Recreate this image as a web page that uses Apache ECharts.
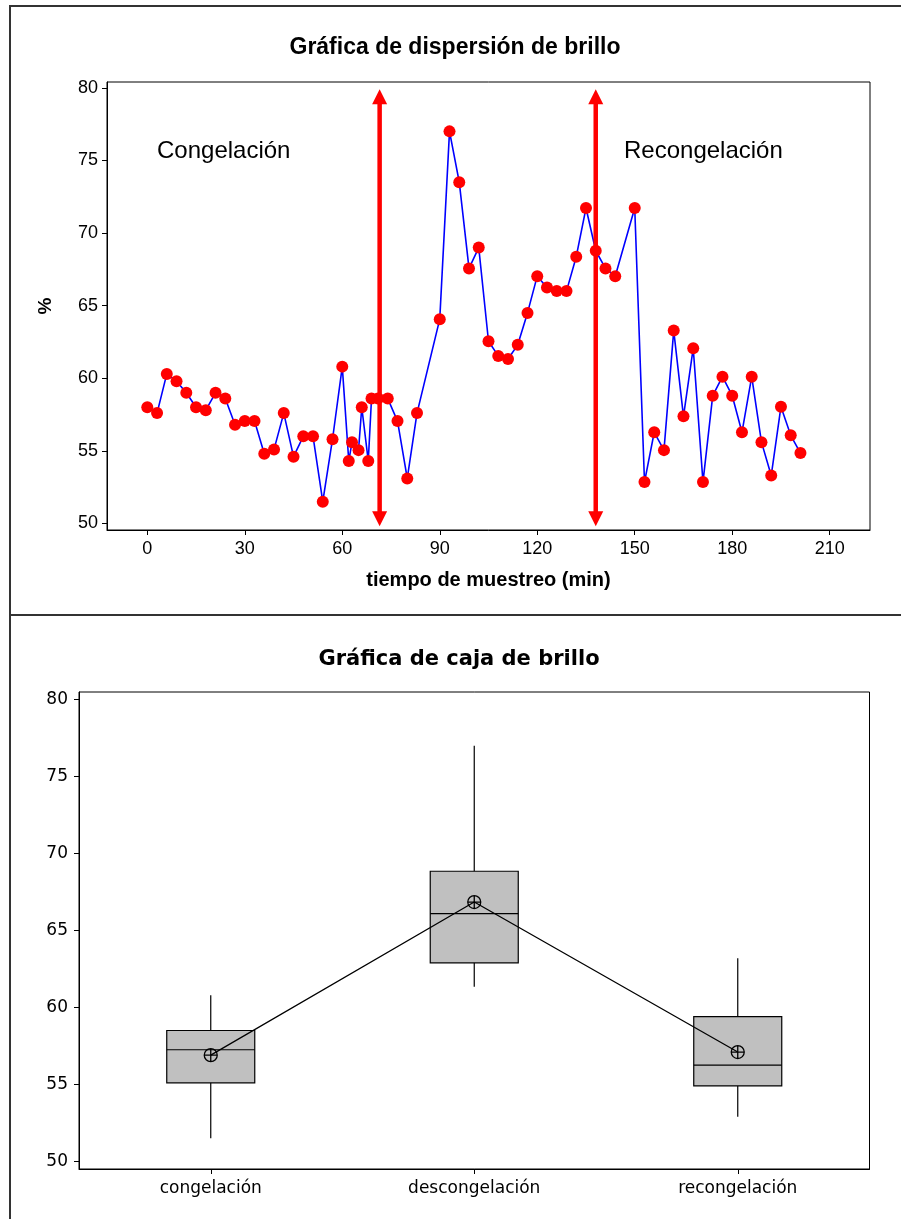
<!DOCTYPE html>
<html>
<head>
<meta charset="utf-8">
<title>Gráficas de brillo</title>
<script src="https://cdn.jsdelivr.net/npm/echarts@6/dist/echarts.min.js"></script>
<style>
  html, body { margin: 0; padding: 0; background: #fff; }
  #chart { width: 901px; height: 1219px; }
</style>
</head>
<body>
<div id="chart"></div>
<script>
// Tiempo de muestreo (min) y brillo (%) de cada muestra
const tiempos = [0, 3, 6, 9, 12, 15, 18, 21, 24, 27, 30, 33, 36, 39, 42, 45, 48, 51, 54, 57, 60,
  62, 63, 65, 66, 68, 69, 71, 74, 77, 80, 83,
  90, 93, 96, 99, 102, 105, 108, 111, 114, 117, 120, 123, 126, 129, 132, 135, 138, 141, 144, 150,
  153, 156, 159, 162, 165, 168, 171, 174, 177, 180, 183, 186, 189, 192, 195, 198, 201];
const brillo = [58.0, 57.6, 60.3, 59.8, 59.0, 58.0, 57.8, 59.0, 58.6, 56.8, 57.05, 57.05, 54.8, 55.1, 57.6, 54.6, 56.0, 56.0, 51.5, 55.8, 60.8,
  54.3, 55.6, 55.05, 58.0, 54.3, 58.6, 58.6, 58.6, 57.05, 53.1, 57.6,
  64.07, 77.0, 73.5, 67.56, 69.0, 62.55, 61.54, 61.33, 62.3, 64.5, 67.03, 66.25, 66.0, 66.0, 68.37, 71.72, 68.78, 67.56, 67.03, 71.72,
  52.85, 56.28, 55.05, 63.28, 57.38, 62.07, 52.85, 58.8, 60.11, 58.8, 56.28, 60.11, 55.6, 53.3, 58.04, 56.07, 54.85];

// Cambios de etapa marcados con flechas (min) y su recorrido vertical (%)
const cambiosEtapa = [71.5, 138];
const recorridoFlecha = [49.8, 79.9];

// Marcas de los ejes
const ticksTiempo = [0, 30, 60, 90, 120, 150, 180, 210];
const ticksPorcentaje = [50, 55, 60, 65, 70, 75, 80];

// Resumen por etapa para la gráfica de caja
const etapas = ['congelación', 'descongelación', 'recongelación'];
const cajaMin = [51.5, 61.35, 52.9];
const cajaQ1 = [55.1, 62.9, 54.9];
const cajaMediana = [57.25, 66.1, 56.25];
const cajaQ3 = [58.5, 68.85, 59.4];
const cajaMax = [60.8, 77.0, 63.2];
const medias = [56.9, 66.85, 57.1];

const fuenteSup = '"Liberation Sans", Arial, sans-serif';
const fuenteInf = '"DejaVu Sans", Verdana, sans-serif';

const chart = echarts.init(document.getElementById('chart'), null, { renderer: 'canvas' });

const puntos = tiempos.map((t, i) => [t, brillo[i]]);
const flechas = cambiosEtapa.map(t => [t, recorridoFlecha[0], recorridoFlecha[1]]);
const cajas = etapas.map((e, i) => [i, cajaMin[i], cajaQ1[i], cajaMediana[i], cajaQ3[i], cajaMax[i]]);

// Flecha vertical de doble punta entre los dos extremos del recorrido
function dibujarFlecha(params, api) {
  const t = api.value(0);
  const abajo = api.coord([t, api.value(1)]);
  const arriba = api.coord([t, api.value(2)]);
  const largo = 15, medio = 7.5;
  const rojo = '#ff0000';
  return {
    type: 'group',
    children: [
      { type: 'line', shape: { x1: arriba[0], y1: arriba[1] + largo - 1, x2: abajo[0], y2: abajo[1] - largo + 1 },
        style: { stroke: rojo, lineWidth: 4.5 } },
      { type: 'polygon', shape: { points: [[arriba[0], arriba[1]], [arriba[0] - medio, arriba[1] + largo], [arriba[0] + medio, arriba[1] + largo]] },
        style: { fill: rojo } },
      { type: 'polygon', shape: { points: [[abajo[0], abajo[1]], [abajo[0] - medio, abajo[1] - largo], [abajo[0] + medio, abajo[1] - largo]] },
        style: { fill: rojo } }
    ]
  };
}

// Caja con bigotes sin remates: mínimo, Q1, mediana, Q3, máximo
function dibujarCaja(params, api) {
  const i = api.value(0);
  const pMin = api.coord([i, api.value(1)]);
  const pQ1 = api.coord([i, api.value(2)]);
  const pMed = api.coord([i, api.value(3)]);
  const pQ3 = api.coord([i, api.value(4)]);
  const pMax = api.coord([i, api.value(5)]);
  const ancho = api.size([1, 0])[0] * 0.334;
  const x = pQ1[0];
  const negro = '#000';
  const trazo = 1.2;
  return {
    type: 'group',
    children: [
      { type: 'line', shape: { x1: x, y1: pMax[1], x2: x, y2: pQ3[1] }, style: { stroke: negro, lineWidth: trazo } },
      { type: 'line', shape: { x1: x, y1: pQ1[1], x2: x, y2: pMin[1] }, style: { stroke: negro, lineWidth: trazo } },
      { type: 'rect', shape: { x: x - ancho / 2, y: pQ3[1], width: ancho, height: pQ1[1] - pQ3[1] },
        style: { fill: '#c0c0c0', stroke: negro, lineWidth: trazo } },
      { type: 'line', shape: { x1: x - ancho / 2, y1: pMed[1], x2: x + ancho / 2, y2: pMed[1] }, style: { stroke: negro, lineWidth: trazo } }
    ]
  };
}

const ejeComun = {
  axisLine: { show: true, onZero: false, lineStyle: { color: '#000', width: 1 } },
  axisTick: { show: true, length: 5, lineStyle: { color: '#000' } },
  splitLine: { show: false }
};

const option = {
  animation: false,
  backgroundColor: '#fff',
  grid: [
    { left: 107, top: 82, width: 763, height: 448, show: true, borderColor: '#000', borderWidth: 1, backgroundColor: '#fff' },
    { left: 79, top: 692, width: 790.5, height: 477, show: true, borderColor: '#000', borderWidth: 1, backgroundColor: '#fff' }
  ],
  xAxis: [
    Object.assign({}, ejeComun, {
      gridIndex: 0, type: 'value', min: -12.4, max: 222.4,
      axisTick: { show: true, length: 5, customValues: ticksTiempo, lineStyle: { color: '#000' } },
      axisLabel: { customValues: ticksTiempo, margin: 10, color: '#000', fontFamily: fuenteSup, fontSize: 18 },
      name: 'tiempo de muestreo (min)', nameLocation: 'middle', nameGap: 40,
      nameTextStyle: { color: '#000', fontFamily: fuenteSup, fontSize: 20, fontWeight: 'bold' }
    }),
    Object.assign({}, ejeComun, {
      gridIndex: 1, type: 'category', data: etapas, boundaryGap: true,
      axisTick: { show: true, length: 5, alignWithLabel: true, lineStyle: { color: '#000' } },
      axisLabel: { margin: 11, color: '#000', fontFamily: fuenteInf, fontSize: 17 }
    })
  ],
  yAxis: [
    Object.assign({}, ejeComun, {
      gridIndex: 0, type: 'value', min: 49.55, max: 80.4,
      axisTick: { show: true, length: 5, customValues: ticksPorcentaje, lineStyle: { color: '#000' } },
      axisLabel: { customValues: ticksPorcentaje, margin: 9, color: '#000', fontFamily: fuenteSup, fontSize: 18 },
      name: '%', nameLocation: 'middle', nameGap: 52, nameRotate: 90,
      nameTextStyle: { color: '#000', fontFamily: fuenteSup, fontSize: 19, fontWeight: 'bold' }
    }),
    Object.assign({}, ejeComun, {
      gridIndex: 1, type: 'value', min: 49.5, max: 80.5,
      axisTick: { show: true, length: 5, customValues: ticksPorcentaje, lineStyle: { color: '#000' } },
      axisLabel: { customValues: ticksPorcentaje, margin: 11, color: '#000', fontFamily: fuenteInf, fontSize: 17 }
    })
  ],
  series: [
    {
      type: 'line', xAxisIndex: 0, yAxisIndex: 0, data: puntos, z: 3,
      lineStyle: { color: '#0000ff', width: 1.6 },
      symbol: 'circle', symbolSize: 12, showAllSymbol: true,
      itemStyle: { color: '#ff0000', borderWidth: 0 }
    },
    {
      type: 'custom', xAxisIndex: 0, yAxisIndex: 0, data: flechas, z: 4,
      encode: { x: 0, y: [1, 2] }, renderItem: dibujarFlecha
    },
    {
      type: 'custom', xAxisIndex: 1, yAxisIndex: 1, data: cajas, z: 2,
      encode: { x: 0, y: [1, 2, 3, 4, 5] }, renderItem: dibujarCaja
    },
    {
      type: 'line', xAxisIndex: 1, yAxisIndex: 1, data: medias, z: 5,
      lineStyle: { color: '#000', width: 1.3 },
      symbol: 'path://M0,10 A10,10 0 1,1 20,10 A10,10 0 1,1 0,10 Z M10,0 L10,20 M0,10 L20,10',
      symbolSize: 13, showAllSymbol: true,
      itemStyle: { color: 'rgba(0,0,0,0)', borderColor: '#000', borderWidth: 1.3 }
    }
  ],
  graphic: [
    { type: 'rect', shape: { x: 10, y: 6, width: 1000, height: 609 }, style: { fill: 'none', stroke: '#333', lineWidth: 2 }, z: 10, silent: true },
    { type: 'rect', shape: { x: 10, y: 615, width: 1000, height: 700 }, style: { fill: 'none', stroke: '#333', lineWidth: 2 }, z: 10, silent: true },
    { type: 'text', x: 455, y: 48, style: { text: 'Gráfica de dispersión de brillo', fill: '#000', font: 'bold 23px ' + fuenteSup, align: 'center', verticalAlign: 'middle' }, z: 10 },
    { type: 'text', x: 157, y: 151, style: { text: 'Congelación', fill: '#000', font: '24px ' + fuenteSup, align: 'left', verticalAlign: 'middle' }, z: 10 },
    { type: 'text', x: 624, y: 151, style: { text: 'Recongelación', fill: '#000', font: '24px ' + fuenteSup, align: 'left', verticalAlign: 'middle' }, z: 10 },
    { type: 'text', x: 459, y: 660, style: { text: 'Gráfica de caja de brillo', fill: '#000', font: 'bold 21px ' + fuenteInf, align: 'center', verticalAlign: 'middle' }, z: 10 }
  ]
};

chart.setOption(option);
</script>
</body>
</html>
